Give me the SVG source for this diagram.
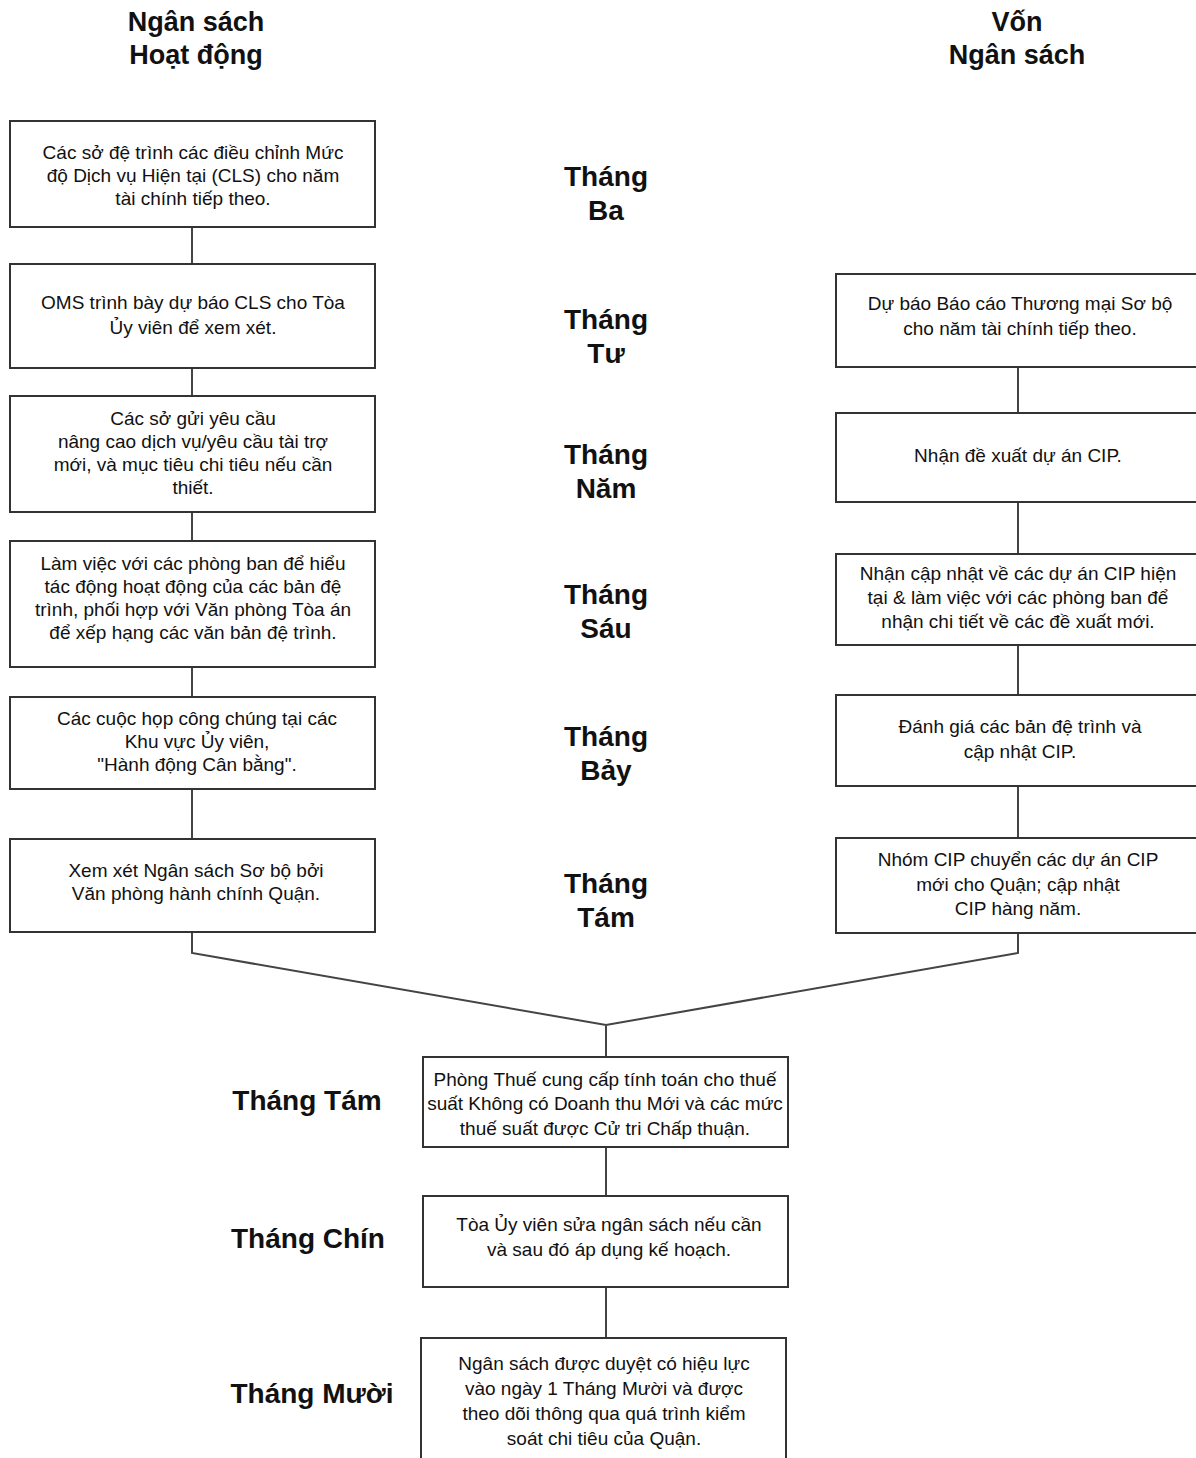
<svg xmlns="http://www.w3.org/2000/svg" width="1196" height="1458" viewBox="0 0 1196 1458">
<style>
.box{fill:#fff;stroke:#333;stroke-width:2}
.t{font-family:"Liberation Sans",Arial,sans-serif;font-size:19px;fill:#111;text-anchor:middle}
.h{font-family:"Liberation Sans",Arial,sans-serif;font-size:27px;font-weight:bold;fill:#111;text-anchor:middle}
.m{font-family:"Liberation Sans",Arial,sans-serif;font-size:28px;font-weight:bold;fill:#111;text-anchor:middle}
.c{fill:none;stroke:#444;stroke-width:2}
</style>
<rect width="1196" height="1458" fill="#fff"/>
<g id="headers">
<text class="h" x="196" y="31">Ngân sách</text>
<text class="h" x="196" y="64">Hoạt động</text>
<text class="h" x="1017" y="31">Vốn</text>
<text class="h" x="1017" y="64">Ngân sách</text>
</g>
<g id="connectors">
<path class="c" d="M192 227V264M192 368V396M192 512V541M192 667V697M192 789V839"/>
<path class="c" d="M1018 367V413M1018 502V554M1018 645V695M1018 786V838"/>
<path class="c" d="M192 932V953L606 1025L1018 953V933M606 1025V1057"/>
<path class="c" d="M606 1147V1196M606 1287V1338"/>
</g>
<g id="months">
<text class="m" x="606" y="186">Tháng</text><text class="m" x="606" y="220">Ba</text>
<text class="m" x="606" y="329">Tháng</text><text class="m" x="606" y="363">Tư</text>
<text class="m" x="606" y="464">Tháng</text><text class="m" x="606" y="498">Năm</text>
<text class="m" x="606" y="604">Tháng</text><text class="m" x="606" y="638">Sáu</text>
<text class="m" x="606" y="746">Tháng</text><text class="m" x="606" y="780">Bảy</text>
<text class="m" x="606" y="893">Tháng</text><text class="m" x="606" y="927">Tám</text>
<text class="m" x="307" y="1110">Tháng Tám</text>
<text class="m" x="308" y="1248">Tháng Chín</text>
<text class="m" x="312" y="1403">Tháng Mười</text>
</g>
<g id="l1"><rect class="box" x="10" y="121" width="365" height="106"/>
<text class="t" x="193" y="159">Các sở đệ trình các điều chỉnh Mức</text>
<text class="t" x="193" y="182">độ Dịch vụ Hiện tại (CLS) cho năm</text>
<text class="t" x="193" y="205">tài chính tiếp theo.</text></g>
<g id="l2"><rect class="box" x="10" y="264" width="365" height="104"/>
<text class="t" x="193" y="309">OMS trình bày dự báo CLS cho Tòa</text>
<text class="t" x="193" y="334">Ủy viên để xem xét.</text></g>
<g id="l3"><rect class="box" x="10" y="396" width="365" height="116"/>
<text class="t" x="193" y="425">Các sở gửi yêu cầu</text>
<text class="t" x="193" y="448">nâng cao dịch vụ/yêu cầu tài trợ</text>
<text class="t" x="193" y="471">mới, và mục tiêu chi tiêu nếu cần</text>
<text class="t" x="193" y="494">thiết.</text></g>
<g id="l4"><rect class="box" x="10" y="541" width="365" height="126"/>
<text class="t" x="193" y="570">Làm việc với các phòng ban để hiểu</text>
<text class="t" x="193" y="593">tác động hoạt động của các bản đệ</text>
<text class="t" x="193" y="616">trình, phối hợp với Văn phòng Tòa án</text>
<text class="t" x="193" y="639">để xếp hạng các văn bản đệ trình.</text></g>
<g id="l5"><rect class="box" x="10" y="697" width="365" height="92"/>
<text class="t" x="197" y="725">Các cuộc họp công chúng tại các</text>
<text class="t" x="197" y="748">Khu vực Ủy viên,</text>
<text class="t" x="197" y="771">"Hành động Cân bằng".</text></g>
<g id="l6"><rect class="box" x="10" y="839" width="365" height="93"/>
<text class="t" x="196" y="877">Xem xét Ngân sách Sơ bộ bởi</text>
<text class="t" x="196" y="900">Văn phòng hành chính Quận.</text></g>
<g id="r1"><rect class="box" x="836" y="274" width="372" height="93"/>
<text class="t" x="1020" y="310">Dự báo Báo cáo Thương mại Sơ bộ</text>
<text class="t" x="1020" y="335">cho năm tài chính tiếp theo.</text></g>
<g id="r2"><rect class="box" x="836" y="413" width="372" height="89"/>
<text class="t" x="1018" y="462">Nhận đề xuất dự án CIP.</text></g>
<g id="r3"><rect class="box" x="836" y="554" width="372" height="91"/>
<text class="t" x="1018" y="580">Nhận cập nhật về các dự án CIP hiện</text>
<text class="t" x="1018" y="604">tại &amp; làm việc với các phòng ban để</text>
<text class="t" x="1018" y="628">nhận chi tiết về các đề xuất mới.</text></g>
<g id="r4"><rect class="box" x="836" y="695" width="372" height="91"/>
<text class="t" x="1020" y="733">Đánh giá các bản đệ trình và</text>
<text class="t" x="1020" y="758">cập nhật CIP.</text></g>
<g id="r5"><rect class="box" x="836" y="838" width="372" height="95"/>
<text class="t" x="1018" y="866">Nhóm CIP chuyển các dự án CIP</text>
<text class="t" x="1018" y="891">mới cho Quận; cập nhật</text>
<text class="t" x="1018" y="915">CIP hàng năm.</text></g>
<g id="b1"><rect class="box" x="423" y="1057" width="365" height="90"/>
<text class="t" x="605" y="1086">Phòng Thuế cung cấp tính toán cho thuế</text>
<text class="t" x="605" y="1110">suất Không có Doanh thu Mới và các mức</text>
<text class="t" x="605" y="1135">thuế suất được Cử tri Chấp thuận.</text></g>
<g id="b2"><rect class="box" x="423" y="1196" width="365" height="91"/>
<text class="t" x="609" y="1231">Tòa Ủy viên sửa ngân sách nếu cần</text>
<text class="t" x="609" y="1256">và sau đó áp dụng kế hoạch.</text></g>
<g id="b3"><rect class="box" x="421" y="1338" width="365" height="130"/>
<text class="t" x="604" y="1370">Ngân sách được duyệt có hiệu lực</text>
<text class="t" x="604" y="1395">vào ngày 1 Tháng Mười và được</text>
<text class="t" x="604" y="1420">theo dõi thông qua quá trình kiểm</text>
<text class="t" x="604" y="1445">soát chi tiêu của Quận.</text></g>
</svg>
